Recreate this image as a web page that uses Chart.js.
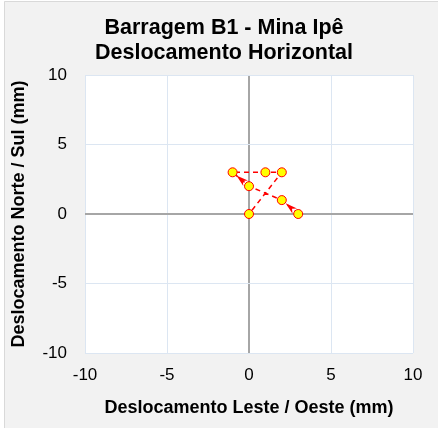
<!DOCTYPE html>
<html>
<head>
<meta charset="utf-8">
<script src="https://cdn.jsdelivr.net/npm/chart.js@4.4.0/dist/chart.umd.min.js"></script>
<style>
  html, body { margin: 0; padding: 0; background: #ffffff; }
  #caixa { width: 438px; height: 428px; }
</style>
</head>
<body>
<div id="caixa"><canvas id="grafico"></canvas></div>
<script>
// leituras do marco (mm), na ordem em que a linha as liga
const leste = [3, 2, 0, -1, 1, 2, 0];
const norte = [0, 1, 2, 3, 3, 3, 0];
// trechos que recebem seta no ponto final (indice do ponto inicial)
const trechosComSeta = [0, 2];
const ticksEixo = [-10, -5, 0, 5, 10];

const fonte = "Arial, 'Liberation Sans', sans-serif";

const pontos = leste.map((x, i) => ({ x: x, y: norte[i] }));

const fundo = {
    id: 'fundo',
    afterLayout(chart) {
        // titulo centrado na largura toda da figura
        if (chart.titleBlock) {
            chart.titleBlock.left = 10;
            chart.titleBlock.right = 438;
        }
    },
    beforeDraw(chart) {
        const { ctx, width, height, chartArea: a } = chart;
        ctx.save();
        ctx.fillStyle = '#ffffff';
        ctx.fillRect(0, 0, width, height);
        ctx.fillStyle = '#f2f2f2';
        ctx.fillRect(4, 1, width - 4, height - 1);
        ctx.strokeStyle = '#d9d9d9';
        ctx.lineWidth = 1;
        ctx.beginPath();
        ctx.moveTo(4.5, height);
        ctx.lineTo(4.5, 1.5);
        ctx.lineTo(width, 1.5);
        ctx.stroke();
        ctx.fillStyle = '#ffffff';
        ctx.fillRect(a.left, a.top, a.right - a.left, a.bottom - a.top);
        ctx.restore();
    }
};

const setas = {
    id: 'setas',
    afterDatasetsDraw(chart) {
        const { ctx, scales: { x, y } } = chart;
        ctx.save();
        ctx.fillStyle = '#ff0000';
        trechosComSeta.forEach(i => {
            const x0 = x.getPixelForValue(leste[i]), y0 = y.getPixelForValue(norte[i]);
            const x1 = x.getPixelForValue(leste[i + 1]), y1 = y.getPixelForValue(norte[i + 1]);
            const ang = Math.atan2(y1 - y0, x1 - x0);
            const px = x1 - Math.cos(ang) * 5, py = y1 - Math.sin(ang) * 5;
            const comp = 12, larg = 3.5;
            ctx.beginPath();
            ctx.moveTo(px, py);
            ctx.lineTo(px - Math.cos(ang) * comp - Math.sin(ang) * larg, py - Math.sin(ang) * comp + Math.cos(ang) * larg);
            ctx.lineTo(px - Math.cos(ang) * comp * 0.7, py - Math.sin(ang) * comp * 0.7);
            ctx.lineTo(px - Math.cos(ang) * comp + Math.sin(ang) * larg, py - Math.sin(ang) * comp - Math.cos(ang) * larg);
            ctx.closePath();
            ctx.fill();
        });
        ctx.restore();
    }
};

function corGrade(c) {
    return c.tick && c.tick.value === 0 ? '#a6a6a6' : '#dce6f2';
}
function larguraGrade(c) {
    return c.tick && c.tick.value === 0 ? 2 : 1;
}

new Chart(document.getElementById('grafico'), {
    type: 'scatter',
    data: {
        datasets: [{
            label: 'Deslocamento',
            data: pontos,
            showLine: true,
            borderColor: '#ff0000',
            borderWidth: 1.5,
            borderDash: [5, 4],
            pointBackgroundColor: '#ffff00',
            pointBorderColor: '#ff0000',
            pointBorderWidth: 1,
            pointRadius: 4.5,
            pointHoverRadius: 4.5
        }]
    },
    options: {
        responsive: true,
        maintainAspectRatio: false,
        animation: false,
        layout: { padding: { left: 4, right: 25, top: 0, bottom: 0 } },
        plugins: {
            legend: { display: false },
            tooltip: { enabled: false },
            title: {
                display: true,
                text: ['Barragem B1 - Mina Ipê', 'Deslocamento Horizontal'],
                color: '#000000',
                font: { family: fonte, size: 21.5, weight: 'bold', lineHeight: '25px' },
                padding: { top: 16, bottom: 9 }
            }
        },
        scales: {
            x: {
                type: 'linear',
                min: -10,
                max: 10,
                afterBuildTicks(s) { s.ticks = ticksEixo.map(v => ({ value: v })); },
                afterFit(s) { s.height = 75; },
                ticks: { color: '#000000', font: { family: fonte, size: 17 }, padding: 12 },
                grid: { color: corGrade, lineWidth: larguraGrade, drawTicks: false },
                border: { display: false },
                title: {
                    display: true,
                    text: 'Deslocamento Leste / Oeste (mm)',
                    color: '#000000',
                    font: { family: fonte, size: 18, weight: 'bold' },
                    padding: { top: 4, bottom: 9 }
                }
            },
            y: {
                type: 'linear',
                min: -10,
                max: 10,
                afterBuildTicks(s) { s.ticks = ticksEixo.map(v => ({ value: v })); },
                afterFit(s) { s.width = 81; },
                ticks: { color: '#000000', font: { family: fonte, size: 17 }, padding: 18 },
                grid: { color: corGrade, lineWidth: larguraGrade, drawTicks: false },
                border: { display: false },
                title: {
                    display: true,
                    text: 'Deslocamento Norte / Sul (mm)',
                    color: '#000000',
                    font: { family: fonte, size: 18, weight: 'bold' },
                    padding: { top: 4, bottom: 4 }
                }
            }
        }
    },
    plugins: [fundo, setas]
});
</script>
</body>
</html>
